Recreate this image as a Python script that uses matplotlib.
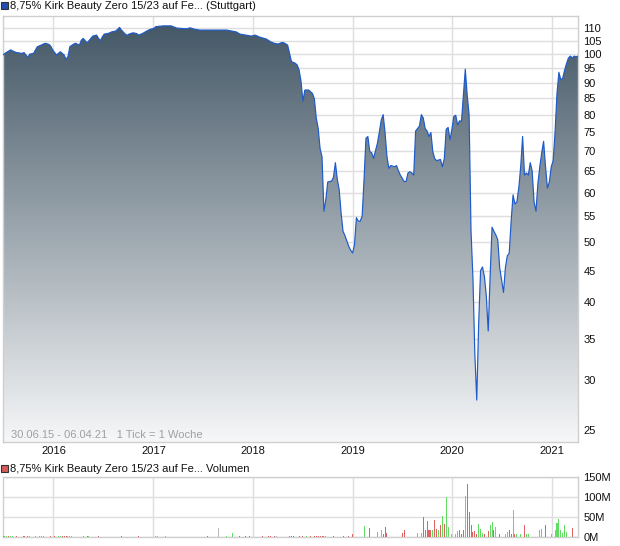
import numpy as np
import pandas as pd
import matplotlib
matplotlib.use('Agg')
import matplotlib.pyplot as plt
import matplotlib.dates as mdates
from matplotlib.path import Path
from matplotlib.patches import Rectangle
from matplotlib.ticker import FixedLocator, FixedFormatter, NullLocator

plt.rcParams['font.family'] = ['Liberation Sans', 'DejaVu Sans']

# ---------------- data ----------------
start_date = '2015-06-30'
n_weeks = 301

price_weeks = [0, 1, 4, 5, 7, 10, 11, 12, 13, 14, 16, 17, 18, 20, 22, 24, 25, 26, 28, 29,
               30, 32, 33, 34, 35, 37, 38, 40, 41, 42, 43, 44, 45, 47, 49, 50, 51, 52, 53, 55,
               57, 59, 60, 61, 62, 64, 65, 66, 68, 70, 71, 73, 75, 77, 79, 80, 84, 88, 91, 96,
               98, 100, 103, 117, 122, 124, 127, 130, 132, 134, 138, 140, 142, 144, 146, 147, 149, 150, 151, 153,
               154, 155, 156, 157, 158, 160, 162, 163, 164, 165, 166, 167, 168, 169, 170, 172, 173, 174, 175, 176,
               177, 178, 179, 181, 182, 183, 184, 185, 186, 187, 188, 189, 190, 191, 192, 193, 194, 195, 196, 197,
               198, 199, 200, 201, 202, 203, 205, 206, 207, 208, 210, 211, 212, 213, 214, 215, 216, 218, 219, 220,
               221, 222, 223, 224, 225, 226, 227, 229, 230, 231, 232, 233, 234, 235, 236, 237, 238, 239, 240, 241,
               242, 243, 244, 245, 246, 247, 248, 249, 250, 251, 252, 253, 254, 255, 256, 257, 258, 259, 260, 261,
               262, 263, 264, 265, 266, 267, 268, 269, 270, 271, 272, 273, 274, 275, 276, 277, 278, 279, 280, 281,
               282, 283, 284, 285, 286, 287, 288, 289, 290, 291, 292, 293, 294, 295, 296, 297, 298, 299, 300, 301]
price_values = [99.7, 100.3, 101.6, 101.2, 100.6, 100.3, 100.6, 99.7, 98.8, 100.0, 100.3, 101.6, 102.8, 103.4, 104.1, 103.7, 103.0, 101.6, 99.7, 100.3,
                100.9, 99.7, 98.1, 99.1, 102.8, 103.8, 104.1, 103.4, 105.3, 106.0, 105.1, 104.3, 105.1, 106.9, 107.3, 106.0, 105.1, 106.6, 107.7, 107.9,
                108.6, 108.9, 109.6, 110.4, 109.3, 107.7, 107.2, 107.7, 108.2, 107.9, 107.3, 107.9, 108.8, 109.6, 110.0, 110.7, 111.0, 111.0, 110.1, 109.8,
                110.2, 109.7, 109.3, 109.3, 108.6, 107.7, 107.3, 106.9, 107.3, 106.6, 105.7, 104.7, 104.1, 103.8, 104.4, 104.3, 103.4, 100.3, 97.3, 96.7,
                96.1, 94.3, 90.5, 84.0, 87.6, 87.6, 86.5, 84.8, 79.0, 76.0, 70.5, 68.5, 56.0, 58.5, 62.4, 62.6, 63.5, 67.0, 63.0, 60.6,
                55.6, 52.0, 51.2, 49.2, 48.5, 48.0, 49.5, 54.7, 54.0, 54.0, 55.0, 63.0, 73.3, 73.8, 69.8, 69.5, 68.1, 70.0, 72.0, 75.0,
                78.4, 80.0, 74.9, 68.5, 65.6, 66.3, 66.0, 66.3, 65.0, 64.0, 62.5, 62.5, 64.5, 64.8, 64.5, 64.0, 75.3, 76.7, 80.0, 79.0,
                76.0, 75.3, 73.8, 74.9, 69.8, 68.0, 67.5, 67.8, 66.0, 68.0, 75.8, 76.3, 72.9, 75.8, 79.5, 79.8, 77.0, 78.2, 78.0, 86.0,
                94.6, 86.0, 80.0, 52.0, 43.8, 33.0, 27.9, 37.0, 45.0, 45.6, 44.0, 41.0, 36.0, 44.0, 52.8, 52.0, 51.3, 50.4, 45.5, 43.5,
                41.5, 45.5, 47.5, 48.0, 54.0, 59.5, 57.5, 58.0, 61.0, 66.0, 73.8, 64.0, 64.5, 64.0, 67.0, 65.0, 58.0, 56.0, 62.0, 66.0,
                69.5, 72.5, 66.0, 61.0, 62.4, 66.0, 67.5, 75.0, 86.5, 93.5, 91.0, 91.5, 94.3, 96.6, 98.6, 99.3, 98.6, 99.3, 99.0, 99.3]

# volume in millions; direction: r = down, g = up, n = unchanged
vol_weeks = [0, 1, 2, 3, 4, 5, 7, 11, 13, 14, 17, 19, 20, 21, 25, 27, 29, 30, 31, 32,
             33, 34, 35, 36, 42, 44, 45, 50, 62, 71, 80, 81, 85, 107, 113, 117, 120, 124, 127, 129,
             136, 139, 140, 142, 143, 150, 151, 152, 155, 157, 159, 161, 163, 164, 165, 166, 167, 168, 169, 173,
             178, 181, 183, 189, 192, 196, 198, 199, 200, 201, 209, 210, 217, 219, 220, 221, 222, 223, 224, 225,
             226, 227, 228, 229, 230, 231, 232, 233, 235, 237, 238, 239, 240, 241, 242, 243, 244, 245, 246, 247,
             248, 249, 250, 251, 252, 254, 255, 256, 257, 258, 260, 263, 264, 265, 266, 267, 268, 269, 271, 273,
             274, 275, 281, 282, 284, 287, 289, 290, 291, 292, 293, 294, 295, 298]
vol_values = [2, 2, 2, 2, 2, 2, 2, 2, 2, 2, 2, 2, 2, 2, 2, 2, 2, 2, 2, 2,
              2, 2, 2, 2, 2, 2, 2, 2, 2, 2, 2, 2, 2, 2, 23, 2, 11, 2, 2, 2,
              2, 2, 2, 2, 2, 2, 2, 2, 2, 2, 2, 2, 2, 2, 2, 2, 2, 2, 2, 2,
              2, 2, 7, 27, 22, 12, 17, 8, 25, 10, 10, 18, 10, 10, 50, 17, 39, 17, 17, 17,
              43, 21, 17, 29, 54, 33, 100, 25, 8, 8, 14, 17, 8, 17, 102, 133, 62, 29, 12, 15,
              8, 32, 21, 11, 7, 14, 29, 37, 17, 25, 7, 7, 12, 17, 7, 67, 7, 7, 7, 29,
              8, 8, 18, 21, 29, 7, 17, 35, 46, 17, 10, 29, 12, 22]
vol_dirs = ['r', 'g', 'g', 'r', 'g', 'g', 'r', 'r', 'r', 'g', 'g', 'g', 'g', 'g', 'r', 'r', 'g', 'g', 'r', 'r',
            'r', 'g', 'g', 'g', 'g', 'r', 'g', 'r', 'r', 'r', 'g', 'g', 'g', 'r', 'n', 'g', 'g', 'r', 'r', 'r',
            'r', 'r', 'r', 'r', 'n', 'r', 'r', 'r', 'r', 'r', 'g', 'r', 'r', 'r', 'r', 'r', 'r', 'r', 'g', 'r',
            'r', 'r', 'r', 'g', 'r', 'g', 'g', 'r', 'r', 'r', 'r', 'r', 'g', 'g', 'r', 'r', 'r', 'r', 'r', 'g',
            'r', 'r', 'g', 'r', 'g', 'r', 'g', 'g', 'g', 'g', 'g', 'r', 'r', 'r', 'g', 'r', 'r', 'r', 'r', 'r',
            'r', 'g', 'g', 'g', 'r', 'r', 'g', 'g', 'r', 'g', 'r', 'g', 'g', 'r', 'r', 'g', 'r', 'g', 'g', 'r',
            'g', 'g', 'g', 'g', 'r', 'g', 'g', 'g', 'g', 'g', 'g', 'g', 'g', 'r']

year_labels = ['2016', '2017', '2018', '2019', '2020', '2021']
price_ticks = [25, 30, 35, 40, 45, 50, 55, 60, 65, 70, 75, 80, 85, 90, 95, 100, 105, 110]
vol_ticks = [0, 50, 100, 150]
vol_tick_labels = ['0M', '50M', '100M', '150M']

title_main = '8,75% Kirk Beauty Zero 15/23 auf Fe... (Stuttgart)'
title_vol = '8,75% Kirk Beauty Zero 15/23 auf Fe... Volumen'
note_text = '30.06.15 - 06.04.21   1 Tick = 1 Woche'

# ---------------- helpers ----------------
W, H = 620, 546
t0 = pd.Timestamp(start_date)


def week_num(w):
    d = t0 + pd.to_timedelta(np.asarray(w, dtype=float) * 7, unit='D')
    return mdates.date2num(pd.DatetimeIndex(d).to_pydatetime())


px = week_num(price_weeks)
py = np.array(price_values)
x0, x1 = week_num([0, n_weeks])
year_pos = mdates.date2num([pd.Timestamp(f'{y}-01-01').to_pydatetime() for y in year_labels])

fig = plt.figure(figsize=(W / 100, H / 100), dpi=100)
fig.patch.set_facecolor('white')

grid_c = '#dedede'
frame_c = '#cfcfcf'

# ---------------- main price axes ----------------
ax_l, ax_r, ax_t, ax_b = 3, 578, 16.3, 442
ax = fig.add_axes([ax_l / W, 1 - ax_b / H, (ax_r - ax_l) / W, (ax_b - ax_t) / H])
ax.set_yscale('log')
ymin, ymax = 23.9, 115.0

# gradient fill under the curve
top_c = np.array([0.255, 0.333, 0.392])
bot_c = np.array([0.965, 0.969, 0.973])
tgrad = np.linspace(0, 1, 256)[:, None]
grad = top_c[None, :] * (1 - tgrad) + bot_c[None, :] * tgrad
grad = np.repeat(grad[:, None, :], 2, axis=1)
im = ax.imshow(grad, extent=[0, 1, 0, 1], transform=ax.transAxes, aspect='auto',
               interpolation='bilinear', zorder=1, origin='upper')
verts = [(px[0], ymin)] + list(zip(px, py)) + [(px[-1], ymin), (px[0], ymin)]
im.set_clip_path(Path(verts), ax.transData)

ax.plot(px, py, color='#1e5ac8', lw=0.85, zorder=3)

ax.set_xlim(x0, x1)
ax.set_ylim(ymin, ymax)
ax.yaxis.set_major_locator(FixedLocator(price_ticks))
ax.yaxis.set_major_formatter(FixedFormatter([str(v) for v in price_ticks]))
ax.yaxis.set_minor_locator(NullLocator())
ax.xaxis.set_major_locator(FixedLocator(year_pos))
ax.xaxis.set_major_formatter(FixedFormatter(year_labels))
ax.xaxis.set_minor_locator(NullLocator())
ax.yaxis.tick_right()
ax.tick_params(axis='y', length=0, pad=4, labelsize=8, labelcolor='#111111')
ax.tick_params(axis='x', length=0, pad=3, labelsize=8, labelcolor='#111111')
ax.set_axisbelow(True)
ax.grid(True, color=grid_c, lw=1.0)
for s in ax.spines.values():
    s.set_color(frame_c)
    s.set_linewidth(1.0)

ax.text(8 / (ax_r - ax_l), (ax_b - 438.5) / (ax_b - ax_t), note_text, transform=ax.transAxes,
        fontsize=8, color='#a0a0a0', ha='left', va='baseline', zorder=5)

# ---------------- volume axes ----------------
v_t, v_b = 477.3, 537
vax = fig.add_axes([ax_l / W, 1 - v_b / H, (ax_r - ax_l) / W, (v_b - v_t) / H])
cmap = {'r': '#e06262', 'g': '#62dc62', 'n': '#b8b8b8'}
vcol = [cmap[c] for c in vol_dirs]
vx = week_num(vol_weeks)
vax.bar(vx, vol_values, width=3.8, color=vcol, linewidth=0, zorder=3, antialiased=False)
vax.set_xlim(x0, x1)
vax.set_ylim(0, 150)
vax.yaxis.set_major_locator(FixedLocator(vol_ticks))
vax.yaxis.set_major_formatter(FixedFormatter(vol_tick_labels))
vax.xaxis.set_major_locator(FixedLocator(year_pos))
vax.xaxis.set_major_formatter(FixedFormatter([''] * len(year_pos)))
vax.yaxis.tick_right()
vax.tick_params(axis='y', length=0, pad=4, labelsize=8, labelcolor='#111111')
vax.tick_params(axis='x', length=0, labelbottom=False)
vax.set_axisbelow(True)
vax.grid(True, color=grid_c, lw=1.0)
for s in vax.spines.values():
    s.set_color(frame_c)
    s.set_linewidth(1.0)

# ---------------- legends / titles ----------------
def legend_box(x, y, color):
    fig.add_artist(Rectangle((x / W, 1 - (y + 6.5) / H), 6.5 / W, 6.5 / H,
                             transform=fig.transFigure, facecolor=color,
                             edgecolor='#333333', linewidth=0.8))

legend_box(1, 2, '#1f4fb5')
fig.text(10 / W, 1 - 9.3 / H, title_main, fontsize=8, color='#111111', ha='left', va='baseline')
legend_box(1, 465, '#d85a5a')
fig.text(10 / W, 1 - 472.3 / H, title_vol, fontsize=8, color='#111111', ha='left', va='baseline')

fig.savefig('out.png', dpi=100, facecolor='white')
